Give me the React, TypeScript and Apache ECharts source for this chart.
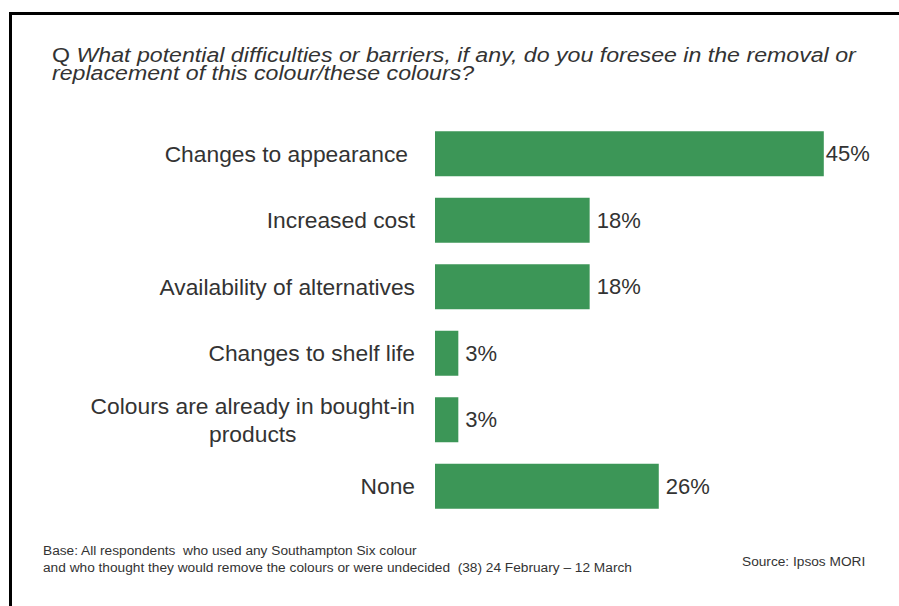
import React, { useEffect, useRef } from "react";
import * as echarts from "echarts";

const categories = [
  "Changes to appearance",
  "Increased cost",
  "Availability of alternatives",
  "Changes to shelf life",
  "Colours are already in bought-in\nproducts",
  "None",
];
const values = [45, 17.9, 17.9, 2.7, 2.7, 25.9];
const titleLine1 = "What potential difficulties or barriers, if any, do you foresee in the removal or";
const titleLine2 = "replacement of this colour/these colours?";
const baseLine1 = "Base: All respondents  who used any Southampton Six colour";
const baseLine2 = "and who thought they would remove the colours or were undecided  (38) 24 February \u2013 12 March";
const sourceText = "Source: Ipsos MORI";

const FONT = "'Liberation Sans', Arial, sans-serif";
const TEXT = "#333333";
const GREEN = "#3c9657";

export default function App() {
  const ref = useRef<HTMLDivElement>(null);
  useEffect(() => {
    if (!ref.current) return;
    const chart = echarts.init(ref.current, undefined, { renderer: "svg" });
    chart.setOption({
      animation: false,
      backgroundColor: "#ffffff",
      grid: { left: 435, right: 32, top: 120.5, bottom: 86.5, containLabel: false },
      xAxis: {
        type: "value",
        min: 0,
        max: 50,
        show: false,
      },
      yAxis: {
        type: "category",
        inverse: true,
        data: categories,
        axisLine: { show: false },
        axisTick: { show: false },
        axisLabel: {
          margin: 20,
          fontFamily: FONT,
          fontSize: 22.8,
          color: TEXT,
          formatter: (v: string, i: number) =>
            v
              .split("\n")
              .map((s) => (i === 0 ? `{f|${s}}` : `{c|${s}}`))
              .join("\n"),
          rich: {
            c: { fontFamily: FONT, fontSize: 22.8, color: TEXT, align: "center", lineHeight: 28 },
            f: { fontFamily: FONT, fontSize: 22.8, color: TEXT, lineHeight: 28, padding: [0, 7, 0, 0] },
          },
        },
      },
      series: [
        {
          type: "bar",
          data: values.map((v, i) =>
            i === 0 ? { value: v, label: { distance: 2 } } : { value: v }
          ),
          barWidth: 45,
          itemStyle: { color: GREEN },
          label: {
            show: true,
            position: "right",
            distance: 7,
            formatter: (p: any) => `${Math.round(p.value)}%`,
            fontFamily: FONT,
            fontSize: 22,
            color: TEXT,
          },
        },
      ],
      graphic: [
        { type: "rect", left: 9, top: 12, shape: { width: 890, height: 3 }, style: { fill: "#000" } },
        { type: "rect", left: 9, top: 12, shape: { width: 3, height: 594 }, style: { fill: "#000" } },
        {
          type: "text",
          x: 52,
          y: 46,
          scaleX: 1.13,
          style: {
            text: `{n|Q }{i|${titleLine1}}\n{i|${titleLine2}}`,
            rich: {
              n: { fontFamily: FONT, fontSize: 20.5, fill: TEXT, lineHeight: 17.7 },
              i: { fontFamily: FONT, fontSize: 20.5, fontStyle: "italic", fill: TEXT, lineHeight: 17.7 },
            },
          },
        },
        {
          type: "text",
          left: 43,
          top: 542,
          style: {
            text: `${baseLine1}\n${baseLine2}`,
            fontFamily: FONT,
            fontSize: 13.7,
            lineHeight: 17,
            fill: TEXT,
          },
        },
        {
          type: "text",
          left: 742,
          top: 554,
          style: { text: sourceText, fontFamily: FONT, fontSize: 13.7, fill: TEXT },
        },
      ],
    });
    return () => chart.dispose();
  }, []);
  return <div ref={ref} style={{ width: 899, height: 606, position: "absolute", left: 0, top: 0 }} />;
}
